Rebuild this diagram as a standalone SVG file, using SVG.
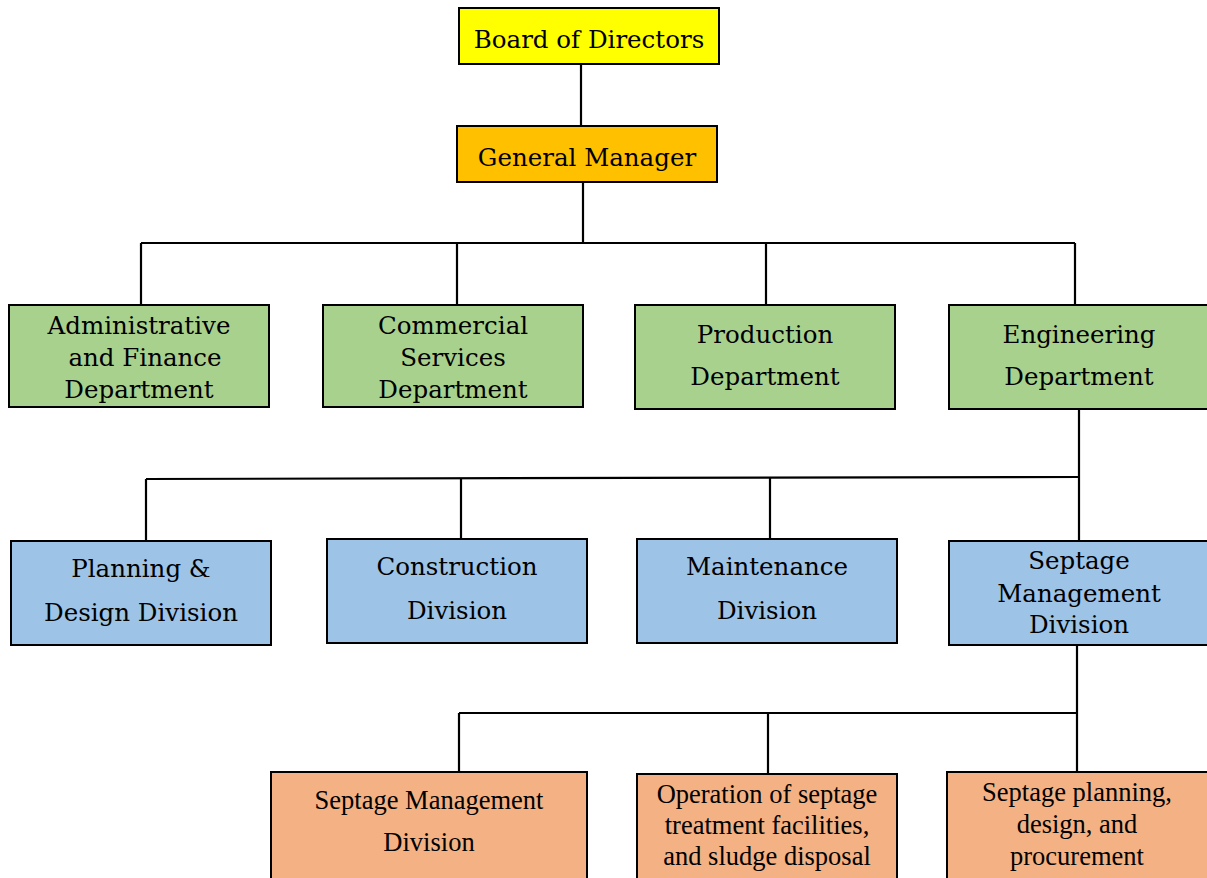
<svg xmlns="http://www.w3.org/2000/svg" width="1207" height="878" viewBox="0 0 1207 878">
<style>
.box{stroke:#000;stroke-width:2}
.t{font-family:"DejaVu Serif","Liberation Serif",serif;font-size:24.5px;fill:#000;text-anchor:middle}
.o{font-family:"Liberation Serif","Times New Roman",serif;font-size:26.5px;fill:#000;text-anchor:middle}
.c{stroke:#000;stroke-width:2.2;fill:none}
</style>
<rect width="1207" height="878" fill="#fff"/>
<g id="connectors">
<path class="c" d="M581 64V126"/>
<path class="c" d="M583 182V243"/>
<path class="c" d="M141 243H1075"/>
<path class="c" d="M141 243V305M457 243V305M766 243V305M1075 243V305"/>
<path class="c" d="M1079 408V541"/>
<path class="c" d="M146 479L1079 477"/>
<path class="c" d="M146 479V541M461 479V539M770 478V539"/>
<path class="c" d="M1077 645V772"/>
<path class="c" d="M459 713H1077"/>
<path class="c" d="M459 713V772M768 713V774"/>
</g>
<g id="board"><rect class="box" x="459" y="8" width="260" height="56" fill="#FFFF00"/><text class="t" x="589" y="48">Board of Directors</text></g>
<g id="gm"><rect class="box" x="457" y="126" width="260" height="56" fill="#FFC000"/><text class="t" x="587" y="166">General Manager</text></g>
<g id="admin"><rect class="box" x="9" y="305" width="260" height="102" fill="#A9D18E"/><text class="t" x="139" y="334">Administrative</text><text class="t" x="145" y="366">and Finance</text><text class="t" x="139" y="398">Department</text></g>
<g id="commercial"><rect class="box" x="323" y="305" width="260" height="102" fill="#A9D18E"/><text class="t" x="453" y="334">Commercial</text><text class="t" x="453" y="366">Services</text><text class="t" x="453" y="398">Department</text></g>
<g id="production"><rect class="box" x="635" y="305" width="260" height="104" fill="#A9D18E"/><text class="t" x="765" y="343">Production</text><text class="t" x="765" y="385">Department</text></g>
<g id="engineering"><rect class="box" x="949" y="305" width="260" height="104" fill="#A9D18E"/><text class="t" x="1079" y="343">Engineering</text><text class="t" x="1079" y="385">Department</text></g>
<g id="planning"><rect class="box" x="11" y="541" width="260" height="104" fill="#9DC3E6"/><text class="t" x="141" y="577">Planning &amp;</text><text class="t" x="141" y="621">Design Division</text></g>
<g id="construction"><rect class="box" x="327" y="539" width="260" height="104" fill="#9DC3E6"/><text class="t" x="457" y="575">Construction</text><text class="t" x="457" y="619">Division</text></g>
<g id="maintenance"><rect class="box" x="637" y="539" width="260" height="104" fill="#9DC3E6"/><text class="t" x="767" y="575">Maintenance</text><text class="t" x="767" y="619">Division</text></g>
<g id="septage"><rect class="box" x="949" y="541" width="260" height="104" fill="#9DC3E6"/><text class="t" x="1079" y="569">Septage</text><text class="t" x="1079" y="602">Management</text><text class="t" x="1079" y="633">Division</text></g>
<g id="sep-mgmt"><rect class="box" x="271" y="772" width="316" height="120" fill="#F4B183"/><text class="o" x="429" y="809">Septage Management</text><text class="o" x="429" y="851">Division</text></g>
<g id="operation"><rect class="box" x="637" y="774" width="260" height="120" fill="#F4B183"/><text class="o" x="767" y="803">Operation of septage</text><text class="o" x="767" y="834">treatment facilities,</text><text class="o" x="767" y="865">and sludge disposal</text></g>
<g id="sep-planning"><rect class="box" x="947" y="772" width="262" height="120" fill="#F4B183"/><text class="o" x="1077" y="801">Septage planning,</text><text class="o" x="1077" y="833">design, and</text><text class="o" x="1077" y="865">procurement</text></g>
</svg>
